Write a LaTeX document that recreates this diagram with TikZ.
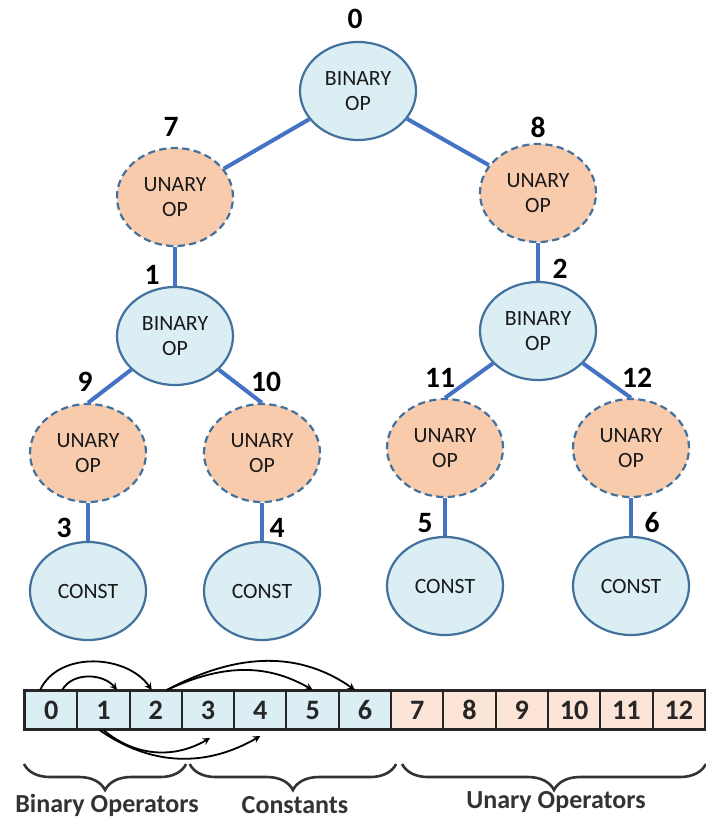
\documentclass[tikz,border=0pt]{standalone}
\usepackage{fontspec}
\setmainfont{Carlito}
\usetikzlibrary{shapes.geometric, arrows, decorations.pathreplacing}

\definecolor{edgeblue}{HTML}{4472C4}
\definecolor{rimblue}{HTML}{41719C}
\definecolor{binfill}{HTML}{DAEEF3}
\definecolor{unfill}{HTML}{F8CBAD}
\definecolor{cellorange}{HTML}{FCE4D6}

\begin{document}
\begin{tikzpicture}[x=0.025cm, y=-0.025cm,
  opnode/.style={ellipse, draw=rimblue, line width=0.055cm, minimum width=2.9cm, minimum height=2.45cm, inner sep=0pt, align=center, font=\fontsize{15.5}{18}\selectfont, text=black!90},
  binop/.style={opnode, fill=binfill},
  unop/.style={opnode, fill=unfill, dash pattern=on 0.18cm off 0.11cm},
  idx/.style={font=\fontsize{21}{24}\selectfont\bfseries},
  edge/.style={edgeblue, line width=0.1cm},
  cell/.style={draw=black!85, line width=0.05cm, minimum width=1.3075cm, minimum height=0.95cm, inner sep=0pt, font=\fontsize{20}{24}\selectfont\bfseries, text=black!85},
  arr/.style={-stealth, line width=0.045cm},
  brace/.style={decorate, decoration={brace, mirror, amplitude=0.65cm}, line width=0.065cm, black!80},
  group/.style={font=\fontsize{18.5}{22}\selectfont\bfseries, text=black!80}]
\useasboundingbox (0,0) rectangle (705,821);

% tree
\node[binop] (n0) at (358,91) {BINARY\\OP};
\node[unop] (n7) at (175,197) {UNARY\\OP};
\node[unop] (n8) at (538,193) {UNARY\\OP};
\node[binop] (n1) at (175,336) {BINARY\\OP};
\node[binop] (n2) at (538,331) {BINARY\\OP};
\node[unop] (n9) at (88,453) {UNARY\\OP};
\node[unop] (n10) at (262,453) {UNARY\\OP};
\node[unop] (n11) at (445,448) {UNARY\\OP};
\node[unop] (n12) at (631,448) {UNARY\\OP};
\node[binop] (n3) at (88,591) {CONST};
\node[binop] (n4) at (262,591) {CONST};
\node[binop] (n5) at (445,586) {CONST};
\node[binop] (n6) at (631,586) {CONST};

\draw[edge] (n0) -- (n7);
\draw[edge] (n0) -- (n8);
\draw[edge] (n7) -- (n1);
\draw[edge] (n8) -- (n2);
\draw[edge] (n1) -- (n9.north);
\draw[edge] (n1) -- (n10.north);
\draw[edge] (n2) -- (n11.north);
\draw[edge] (n2) -- (n12.north);
\draw[edge] (n9) -- (n3);
\draw[edge] (n10) -- (n4);
\draw[edge] (n11) -- (n5);
\draw[edge] (n12) -- (n6);

% indices
\foreach \n/\x/\y in {0/355/19, 7/171/127, 8/538/127, 1/152/275, 2/560/269,
    9/85/382, 10/266/382, 11/440/378, 12/637/378,
    3/64/528, 4/277/528, 5/425/523, 6/652/523}
    \node[idx] (lab\n) at (\x,\y) {\n};

% array
\foreach \i in {0,...,6}
    \node[cell, fill=binfill] (c\i) at ({25+52.3*(\i+0.5)},710) {\i};
\foreach \i in {7,...,12}
    \node[cell, fill=cellorange] (c\i) at ({25+52.3*(\i+0.5)},710) {\i};
\draw[black!85, line width=0.07cm] (c0.north west) rectangle (c12.south east);

\draw[arr] ([xshift=0.275cm]c0.north) to[out=60, in=130] ([xshift=0.34cm]c1.north);
\draw[arr] ([xshift=-0.275cm]c0.north) to[out=65, in=125] ([xshift=-0.1cm]c2.north);
\draw[arr] ([xshift=0.275cm]c2.north) to[out=25, in=150] (c5.north);
\draw[arr] ([xshift=0.275cm]c2.north) to[out=28, in=145] ([xshift=-0.25cm]c6.north);
\draw[arr] (c1.south) to[out=-40, in=210] ([xshift=0.05cm, yshift=-0.2cm]c3.south);
\draw[arr] ([xshift=-0.1cm]c1.south) to[out=-35, in=210] ([yshift=-0.15cm]c4.south);

% groups
\draw[brace] ([yshift=-0.85cm]c0.south west) -- ([xshift=0.08cm, yshift=-0.85cm]c2.south east);
\draw[brace] ([xshift=0.22cm, yshift=-0.85cm]c3.south west) -- ([xshift=0.1cm, yshift=-0.85cm]c6.south east);
\draw[brace] ([xshift=0.3cm, yshift=-0.85cm]c7.south west) -- ([yshift=-0.85cm]c12.south east);

\node[group] (gbin) at (107,805) {Binary Operators};
\node[group] (gconst) at (295,805) {Constants};
\node[group] (gun) at (556,802) {Unary Operators};

\end{tikzpicture}
\end{document}
